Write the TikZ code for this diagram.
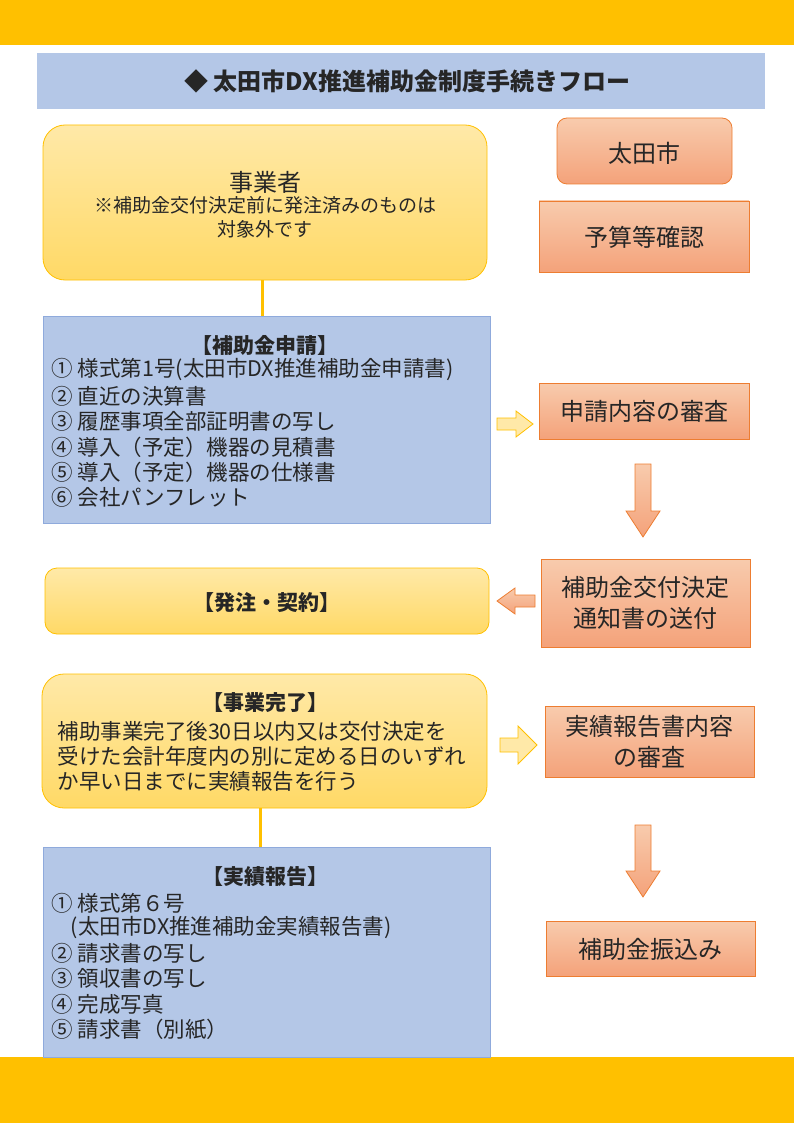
\documentclass[tikz,border=0pt]{standalone}
\usepackage{fontspec}
\setmainfont{Noto Sans CJK JP}
\usetikzlibrary{positioning}
\definecolor{band}{HTML}{FFC000}
\definecolor{lblue}{HTML}{B4C7E7}
\definecolor{bblue}{HTML}{8FAADC}
\definecolor{ytop}{HTML}{FFE9A8}
\definecolor{ybot}{HTML}{FFD966}
\definecolor{stop}{HTML}{F8CBAD}
\definecolor{sbot}{HTML}{F4A27A}
\definecolor{sline}{HTML}{ED7D31}
\definecolor{txt}{HTML}{262626}
\tikzset{
 x=1pt,y=-1pt,
 fs/.style={font=\fontsize{#1}{#1}\selectfont},
 fsb/.style={font=\fontsize{#1}{#1}\selectfont\bfseries},
 ybox/.style={draw=band,line width=0.8pt,rounded corners=22pt,top color=ytop,bottom color=ybot},
 bbox/.style={draw=bblue,line width=0.8pt,fill=lblue},
 sbox/.style={draw=sline,line width=0.8pt,top color=stop,bottom color=sbot},
 yarrow/.style={draw=band,line width=0.8pt,fill=ytop},
 sarrow/.style={draw=sline,line width=0.8pt,top color=stop,bottom color=sbot},
 conn/.style={draw=band,line width=3pt},
 t/.style={text=txt}
}
\begin{document}
\begin{tikzpicture}
\useasboundingbox (0,0) rectangle (794,1123);
\fill[band] (0,0) rectangle (794,45);
\fill[band] (0,1057) rectangle (794,1123);
\fill[lblue] (37,53) rectangle (765,109);
\node[t,fsb=24] (title) at (407,81) {◆ 太田市DX推進補助金制度手続きフロー};
% left boxes
\draw[ybox] (43,125) rectangle (487,280);
\node[t,fs=24] at (265,182) {事業者};
\node[t,font=\fontsize{19}{24}\selectfont,align=center] at (265,217) {※補助金交付決定前に発注済みのものは\\対象外です};
\draw[bbox] (43,316) rectangle (490,523);
\draw[conn] (262,280) -- (262,316);
\node[t,fsb=21] at (265,345) {【補助金申請】};
\foreach \yy/\s in {370/{① 様式第1号(太田市DX推進補助金申請書)},396/{② 直近の決算書},421/{③ 履歴事項全部証明書の写し},447/{④ 導入（予定）機器の見積書},472/{⑤ 導入（予定）機器の仕様書},497/{⑥ 会社パンフレット}}
  \node[t,fs=21.5,anchor=west] at (48,\yy) {\s};
\draw[ybox,rounded corners=12pt] (45,568) rectangle (489,634);
\node[t,fsb=21] at (267,603) {【発注・契約】};
\draw[ybox] (42,674) rectangle (487,808);
\node[t,fsb=21] at (265,703) {【事業完了】};
\foreach \yy/\s in {731/{補助事業完了後30日以内又は交付決定を},756/{受けた会計年度内の別に定める日のいずれ},781/{か早い日までに実績報告を行う}}
  \node[t,fs=21.5,anchor=west] at (54,\yy) {\s};
\draw[bbox] (43,847) rectangle (490,1057);
\draw[conn] (260,808) -- (260,847);
\node[t,fsb=21] at (265,877) {【実績報告】};
\foreach \yy/\s in {903/{① 様式第６号},928/{\hspace{0.9em}(太田市DX推進補助金実績報告書)},953/{② 請求書の写し},978/{③ 領収書の写し},1004/{④ 完成写真},1029/{⑤ 請求書（別紙）}}
  \node[t,fs=21.5,anchor=west] at (48,\yy) {\s};
% right boxes
\draw[sbox,rounded corners=10pt] (557,118) rectangle (732,184);
\node[t,fs=24] at (644,153) {太田市};
\draw[sbox] (539,201) rectangle (749,272);
\node[t,fs=24] at (644,237) {予算等確認};
\draw[sbox] (539,383) rectangle (749,439);
\node[t,fs=24] at (644,411) {申請内容の審査};
\draw[sbox] (541,559) rectangle (750,647);
\node[t,font=\fontsize{24}{31}\selectfont,align=center] at (645,603) {補助金交付決定\\通知書の送付};
\draw[sbox] (545,706) rectangle (754,777);
\node[t,font=\fontsize{24}{31}\selectfont,align=center] at (649,742) {実績報告書内容\\の審査};
\draw[sbox] (546,921) rectangle (755,976);
\node[t,fs=24] at (650,949) {補助金振込み};
% block arrows
\draw[yarrow] (497,418)--(516,418)--(516,411)--(533,424)--(516,437)--(516,430)--(497,430)--cycle;
\draw[yarrow] (500,738)--(518,738)--(518,726)--(537,745)--(518,764)--(518,752)--(500,752)--cycle;
\draw[sarrow] (535,595)--(515,595)--(515,588)--(497,601)--(515,614)--(515,607)--(535,607)--cycle;
\draw[sarrow] (635,464)--(651,464)--(651,511)--(660,511)--(643,537)--(626,511)--(635,511)--cycle;
\draw[sarrow] (635,825)--(651,825)--(651,871)--(660,871)--(643,897)--(626,871)--(635,871)--cycle;
\end{tikzpicture}
\end{document}
